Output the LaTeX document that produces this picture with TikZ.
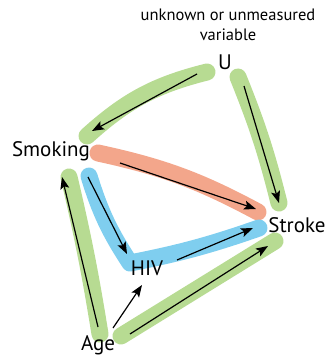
\documentclass[tikz,border=0pt]{standalone}
\usepackage{fontspec}
\setmainfont{PT Sans}
\usetikzlibrary{arrows.meta}
\definecolor{bandgreen}{HTML}{B7DB92}
\definecolor{bandred}{HTML}{F3A68B}
\definecolor{bandblue}{HTML}{7FCEEF}
\begin{document}
\begin{tikzpicture}[x=1pt,y=-1pt,
  band/.style={line width=17pt,line cap=round,line join=round},
  arr/.style={line width=1.2pt,-{Stealth[length=12pt,width=9pt,inset=2.5pt]}},
  lbl/.style={inner sep=0pt,font=\fontsize{21}{24}\selectfont},
  note/.style={inner sep=0pt,align=center,font=\fontsize{16.5}{20}\selectfont}]
\useasboundingbox (0,0) rectangle (329,356);
% bands
\draw[band,bandgreen] (207,72) to[bend right=14] (87,136);
\draw[band,bandgreen] (238,77) to[bend left=4] (279,203);
\draw[band,bandred] (98,153) to[bend left=8] (258,212);
\draw[band,bandblue] (89,176) to[bend right=8] (130,263) to[bend right=4] (259,228);
\draw[band,bandgreen] (69,177) to[bend left=2] (100,334);
\draw[band,bandgreen] (121,336) -- (275,241);
% labels
\node[note] (note) at (228,25) {unknown or unmeasured\\variable};
\node[lbl] (U) at (225,62) {U};
\node[lbl] (Smoking) at (51,151) {Smoking};
\node[lbl] (Stroke) at (297,225) {Stroke};
\node[lbl] (HIV) at (147,268) {HIV};
\node[lbl] (Age) at (98,345) {Age};
% arrow end points
\coordinate (u1) at (197,74);   \coordinate (s1) at (92,131);
\coordinate (u2) at (244,86);   \coordinate (k2) at (279,203);
\coordinate (s3) at (120,163);  \coordinate (k3) at (256,209);
\coordinate (s4) at (88,177);   \coordinate (h4) at (127,254);
\coordinate (h5) at (177,260);  \coordinate (k5) at (253,228);
\coordinate (a6) at (98,327);   \coordinate (s6) at (62,177);
\coordinate (a7) at (130,334);  \coordinate (k7) at (268,246);
\coordinate (a8) at (113,328);  \coordinate (h8) at (142,285);
% arrows
\draw[arr] (u1) -- (s1);
\draw[arr] (u2) -- (k2);
\draw[arr] (s3) -- (k3);
\draw[arr] (s4) -- (h4);
\draw[arr] (h5) -- (k5);
\draw[arr] (a6) -- (s6);
\draw[arr] (a7) -- (k7);
\draw[arr] (a8) -- (h8);
\end{tikzpicture}
\end{document}
